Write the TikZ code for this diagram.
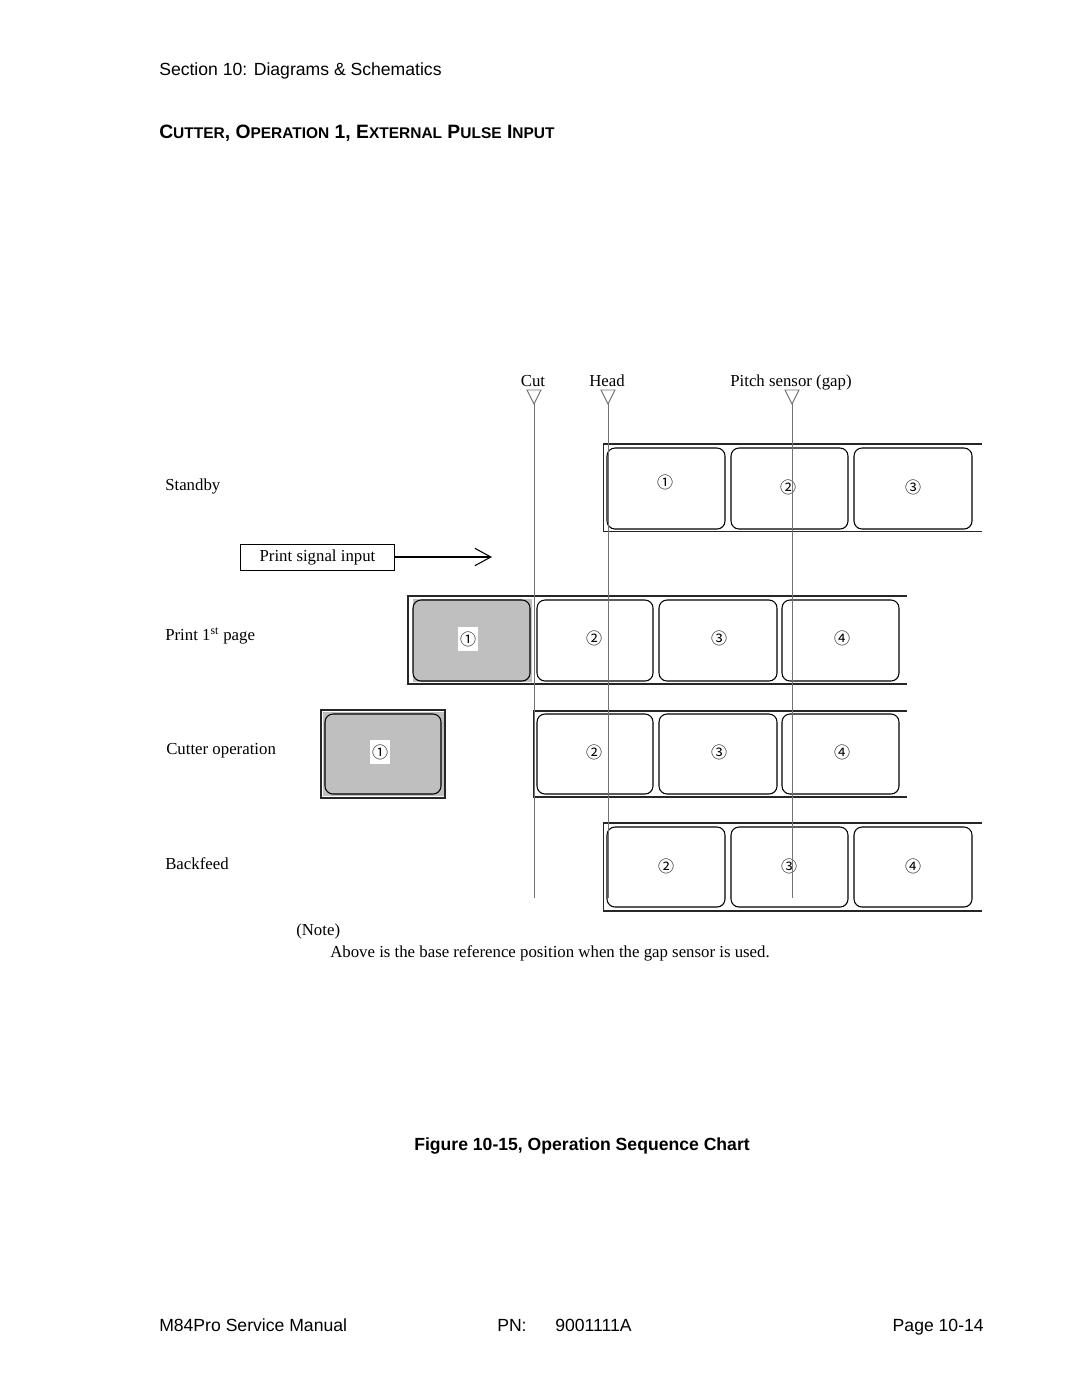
\documentclass[tikz,border=0pt]{standalone}
\usepackage{fontspec}
\setmainfont{Liberation Serif}
\newfontfamily\arialf{Liberation Sans}
\newfontfamily\circf{Noto Sans CJK JP}
\usetikzlibrary{arrows.meta}
\tikzset{
  frame/.style={draw=black!85, line width=0.8pt},
  lbl/.style={draw=black, line width=0.8pt, rounded corners=6pt},
  shade/.style={fill=black!25},
  guide/.style={draw=black!55, line width=0.7pt},
  num/.style={font=\circf\fontsize{12}{13}\selectfont, inner sep=0pt},
  numw/.style={num, fill=white, minimum width=15pt, minimum height=18pt},
  serif/.style={font=\fontsize{12.6}{14}\selectfont, inner sep=0pt},
  sans/.style={font=\arialf\fontsize{13.2}{15}\selectfont, inner sep=0pt},
}
\begin{document}
\begin{tikzpicture}[x=0.75pt,y=-0.75pt]
\useasboundingbox (0,0) rectangle (1080,1397);
% header
\node[sans, anchor=base west] (hdr) at (159,75) {Section 10: Diagrams \& Schematics};
\node[font=\arialf\bfseries\fontsize{14.5}{16}\selectfont, inner sep=0pt, anchor=base west] (ttl) at (159,138)
 {C{\fontsize{11.6}{13}\selectfont UTTER}, O{\fontsize{11.6}{13}\selectfont PERATION} 1, E{\fontsize{11.6}{13}\selectfont XTERNAL} P{\fontsize{11.6}{13}\selectfont ULSE} I{\fontsize{11.6}{13}\selectfont NPUT}};
% top labels
\node[serif, anchor=base] (cutl) at (533,386) {Cut};
\node[serif, anchor=base] (headl) at (607,386) {Head};
\node[serif, anchor=base] (pitchl) at (791,386) {Pitch sensor (gap)};
% triangles
\draw[guide] (527,390) -- (541,390) -- (534,404) -- cycle;
\draw[guide] (601,390) -- (615,390) -- (608,404) -- cycle;
\draw[guide] (785,390) -- (799,390) -- (792,404) -- cycle;
\coordinate (cutT) at (534,404); \coordinate (cutB) at (534,898);
\coordinate (headT) at (608,404); \coordinate (headB) at (608,898);
\coordinate (pitchT) at (792,404); \coordinate (pitchB) at (792,898);
% row labels
\node[serif, anchor=base west] (sb) at (165,490) {Standby};
\node[serif, anchor=base west] (p1) at (165,640) {Print 1\textsuperscript{st} page};
\node[serif, anchor=base west] (co) at (166,754) {Cutter operation};
\node[serif, anchor=base west] (bf) at (165,869) {Backfeed};
% standby row
\draw[frame] (982,444) -- (603.5,444) -- (603.5,531.5) -- (982,531.5);
\draw[lbl] (607,448) rectangle (725,529);
\draw[lbl] (731,448) rectangle (848,529);
\draw[lbl] (854,448) rectangle (972,529);
\node[num] (s1) at (665,482) {①};
\node[num] (s2) at (788,487) {②};
\node[num] (s3) at (913,487) {③};
% print signal
\node[serif, draw, line width=0.7pt, minimum width=116pt, minimum height=19.5pt] (psi) at (317.5,557) {Print signal input};
\coordinate (psiEnd) at (492,557);
\draw[line width=0.8pt, -{Straight Barb[length=12pt,width=13pt]}] (psi.east) -- (psiEnd);
% print 1st page row
\draw[frame] (907,596) -- (408,596) -- (408,684) -- (907,684);
\fill[shade] (413,599) rectangle (531.5,681.5);
\draw[lbl, shade] (413,600) rectangle (530,681);
\draw[lbl] (537,600) rectangle (653,681);
\draw[lbl] (659,600) rectangle (777,681);
\draw[lbl] (782,600) rectangle (899,681);
\node[numw] (p1n) at (468,639) {①};
\node[num] (p2n) at (594,638) {②};
\node[num] (p3n) at (719,638) {③};
\node[num] (p4n) at (842,638) {④};
% cutter row
\draw[frame] (321,710) rectangle (445,798);
\fill[shade] (323,712) rectangle (443.5,796);
\draw[lbl, shade] (325,714) rectangle (441,794);
\draw[frame] (907,711) -- (534,711) -- (534,797) -- (907,797);
\draw[lbl] (537,714) rectangle (653,794);
\draw[lbl] (659,714) rectangle (777,794);
\draw[lbl] (782,714) rectangle (899,794);
\node[numw] (c1n) at (380,752) {①};
\node[num] (c2n) at (594,752) {②};
\node[num] (c3n) at (719,752) {③};
\node[num] (c4n) at (842,752) {④};
% backfeed row
\draw[frame] (982,823) -- (603.5,823) -- (603.5,911) -- (982,911);
\draw[lbl] (607,827) rectangle (725,907);
\draw[lbl] (731,827) rectangle (848,907);
\draw[lbl] (854,827) rectangle (972,907);
\node[num] (b2n) at (666,866) {②};
\node[num] (b3n) at (789,866) {③};
\node[num] (b4n) at (913,866) {④};
% guide lines
\draw[guide] (cutT) -- (cutB);
\draw[guide] (headT) -- (headB);
\draw[guide] (pitchT) -- (pitchB);
% note
\node[serif, anchor=base west] (note) at (296,935) {(Note)};
\node[serif, anchor=base west] (notet) at (330,957) {Above is the base reference position when the gap sensor is used.};
% caption
\node[font=\arialf\bfseries\fontsize{13.2}{15}\selectfont, inner sep=0pt, anchor=base] (cap) at (582,1150) {Figure 10-15, Operation Sequence Chart};
% footer
\node[sans, anchor=base west] (f1) at (159,1331) {M84Pro Service Manual};
\node[sans, anchor=base west] (f2) at (497,1331) {PN:};
\node[sans, anchor=base west] (f3) at (555,1331) {9001111A};
\node[sans, anchor=base east] (f4) at (984,1331) {Page 10-14};
\end{tikzpicture}
\end{document}
